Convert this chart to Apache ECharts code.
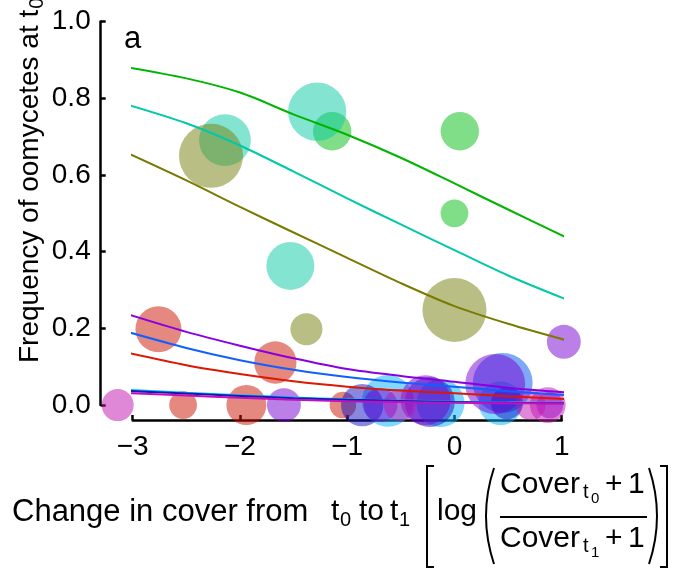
<!DOCTYPE html>
<html>
<head>
<meta charset="utf-8">
<script src="https://cdn.jsdelivr.net/npm/echarts@6/dist/echarts.min.js"></script>
<style>
html,body{margin:0;padding:0;background:#fff;}
#chart{width:679px;height:569px;}
</style>
</head>
<body>
<div id="chart"></div>
<script>
// ---- tick values ----
const xTicks = [-3, -2, -1, 0, 1];
const yTicks = [0, 0.2, 0.4, 0.6, 0.8, 1.0];

// ---- groups ----
const groupNames = ['green', 'turquoise', 'olive', 'red', 'cyan', 'blue', 'navy', 'purple', 'magenta'];

// ---- observed points: [change in cover, frequency, sample weight] ----
const greenPts = [[-1.14, 0.714, 23], [0.05, 0.714, 23], [0.00, 0.500, 12]];
const turquoisePts = [[-2.14, 0.691, 42], [-1.28, 0.765, 53], [-1.53, 0.363, 36]];
const olivePts = [[-2.27, 0.650, 64], [-1.38, 0.198, 16], [0.00, 0.248, 64]];
const redPts = [[-2.76, 0.198, 33], [-1.67, 0.111, 28], [-2.53, 0, 12], [-1.94, 0, 25], [-1.04, 0, 11]];
const cyanPts = [[-0.62, 0.011, 42], [-0.13, 0.005, 36], [0.43, 0.005, 30]];
const bluePts = [[0.45, 0.058, 56]];
const navyPts = [[-0.86, 0, 28], [-0.23, 0.008, 39], [0.49, 0.005, 16]];
const purplePts = [[1.02, 0.165, 18], [-1.59, 0, 18], [-0.69, 0, 18], [-0.27, 0.013, 39], [0.38, 0.055, 56], [0.89, 0, 11]];
const magentaPts = [[-3.14, 0, 16], [-0.51, 0, 16], [0.71, 0, 14], [0.87, 0, 20]];

// ---- fitted curves, read at x = -3.14, -2.5, -2, -1.5, -1, -0.5, 0, 0.5, 1.03 ----
const curveX = [-3.14, -2.5, -2, -1.5, -1, -0.5, 0, 0.5, 1.03];
const greenFit = [0.885, 0.852, 0.815, 0.758, 0.705, 0.645, 0.578, 0.510, 0.439];
const turquoiseFit = [0.791, 0.735, 0.677, 0.609, 0.539, 0.471, 0.404, 0.338, 0.277];
const oliveFit = [0.669, 0.586, 0.517, 0.450, 0.384, 0.318, 0.258, 0.212, 0.170];
const redFit = [0.142, 0.104, 0.081, 0.062, 0.048, 0.038, 0.031, 0.023, 0.016];
const cyanFit = [0.041, 0.032, 0.026, 0.020, 0.015, 0.012, 0.009, 0.007, 0.006];
const blueFit = [0.198, 0.149, 0.117, 0.092, 0.073, 0.059, 0.048, 0.036, 0.026];
const navyFit = [0.038, 0.030, 0.024, 0.018, 0.014, 0.011, 0.008, 0.006, 0.005];
const purpleFit = [0.245, 0.191, 0.155, 0.122, 0.094, 0.076, 0.061, 0.045, 0.033];
const magentaFit = [0.032, 0.025, 0.019, 0.014, 0.010, 0.008, 0.006, 0.005, 0.004];

const ptsByGroup = {green: greenPts, turquoise: turquoisePts, olive: olivePts, red: redPts, cyan: cyanPts, blue: bluePts, navy: navyPts, purple: purplePts, magenta: magentaPts};
const fitByGroup = {green: greenFit, turquoise: turquoiseFit, olive: oliveFit, red: redFit, cyan: cyanFit, blue: blueFit, navy: navyFit, purple: purpleFit, magenta: magentaFit};

// ---- styles ----
const lineColors = {green: '#00B500', turquoise: '#00C8A8', olive: '#7A7A00', red: '#DD1800', cyan: '#00BFFF', blue: '#1060FF', navy: '#1818B0', purple: '#8800E0', magenta: '#C010C0'};
const bubbleColors = {green: 'rgba(0,190,15,0.5)', turquoise: 'rgba(9,201,165,0.5)', olive: 'rgba(115,127,9,0.5)', red: 'rgba(203,17,0,0.5)', cyan: 'rgba(1,177,255,0.5)', blue: 'rgba(0,81,241,0.5)', navy: 'rgba(17,17,193,0.5)', purple: 'rgba(119,0,209,0.5)', magenta: 'rgba(193,17,177,0.5)'};

const FAM = '"Liberation Sans", Arial, Helvetica, sans-serif';
const sizeOf = d => 8 * Math.sqrt(d[2]);

const series = [];
groupNames.forEach(g => {
  series.push({
    type: 'scatter', name: g, data: ptsByGroup[g], clip: false, z: 2,
    symbolSize: sizeOf,
    itemStyle: {color: bubbleColors[g], opacity: 1},
    emphasis: {disabled: true}
  });
});
groupNames.forEach(g => {
  series.push({
    type: 'line', name: g + ' fit', data: curveX.map((x, i) => [x, fitByGroup[g][i]]), clip: false, z: 3,
    smooth: 0.3, showSymbol: false, symbol: 'none',
    lineStyle: {color: lineColors[g], width: 2}
  });
});

const txt = (text, x, y, size, extra) => ({
  type: 'text', x: x, y: y, silent: true,
  style: Object.assign({text: text, font: size + 'px ' + FAM, fill: '#000', textAlign: 'left', textVerticalAlign: 'middle'}, extra || {})
});
const stroke = {stroke: '#000', lineWidth: 2, fill: null};

const ctx = document.createElement('canvas').getContext('2d');
function tw(t, size) { ctx.font = size + 'px ' + FAM; return ctx.measureText(t).width; }

const yTitleMain = 'Frequency of oomycetes at t';
const graphics = [
  // y title (rotated)
  {type: 'group', x: 30, y: 363, rotation: Math.PI / 2, children: [
    txt(yTitleMain, 0, 0, 28),
    txt('0', tw(yTitleMain, 28) + 1, 7, 20)
  ]},
  // panel letter
  txt('a', 124, 39, 31),
  // x title
  txt('Change in cover from', 12, 512, 31),
  txt('t', 331, 512, 30), txt('0', 340, 520, 20),
  txt('to', 359, 512, 30),
  txt('t', 390, 512, 30), txt('1', 399, 520, 20),
  {type: 'polyline', silent: true, shape: {points: [[434, 466], [427, 466], [427, 567], [434, 567]]}, style: stroke},
  txt('log', 437, 512, 30),
  {type: 'bezierCurve', silent: true, shape: {x1: 494, y1: 468, cpx1: 478, cpy1: 516, x2: 494, y2: 564}, style: stroke},
  txt('Cover', 500, 485, 30), txt('t', 583, 492, 20), txt('0', 591, 499, 15), txt('+', 605, 485, 30), txt('1', 628, 485, 30),
  {type: 'line', silent: true, shape: {x1: 500, y1: 517, x2: 647, y2: 517}, style: {stroke: '#000', lineWidth: 2}},
  txt('Cover', 500, 539, 30), txt('t', 583, 546, 20), txt('1', 591, 553, 15), txt('+', 605, 539, 30), txt('1', 628, 539, 30),
  {type: 'bezierCurve', silent: true, shape: {x1: 649, y1: 468, cpx1: 665, cpy1: 516, x2: 649, y2: 564}, style: stroke},
  {type: 'polyline', silent: true, shape: {points: [[660, 466], [667, 466], [667, 567], [660, 567]]}, style: stroke}
];

const chart = echarts.init(document.getElementById('chart'), null, {renderer: 'canvas'});
chart.setOption({
  animation: false,
  backgroundColor: '#fff',
  grid: {left: 132.7, right: 117.3, top: 21.6, bottom: 163.9, containLabel: false},
  xAxis: {
    type: 'value', min: xTicks[0], max: xTicks[xTicks.length - 1], interval: 1, offset: 15,
    axisLine: {show: true, onZero: false, lineStyle: {color: '#000', width: 2.5}},
    axisTick: {show: true, inside: true, length: 5, lineStyle: {color: '#000', width: 2.5}},
    axisLabel: {color: '#000', fontSize: 28, fontFamily: FAM, margin: 13,
      formatter: v => (v < 0 ? '\u2212' + (-v) : String(v))},
    splitLine: {show: false}
  },
  yAxis: {
    type: 'value', min: yTicks[0], max: yTicks[yTicks.length - 1], interval: 0.2, offset: 32,
    axisLine: {show: true, onZero: false, lineStyle: {color: '#000', width: 2.5}},
    axisTick: {show: true, inside: true, length: 5, lineStyle: {color: '#000', width: 2.5}},
    axisLabel: {color: '#000', fontSize: 28, fontFamily: FAM, margin: 10,
      formatter: v => v.toFixed(1)},
    splitLine: {show: false}
  },
  series: series,
  graphic: graphics
});
</script>
</body>
</html>
